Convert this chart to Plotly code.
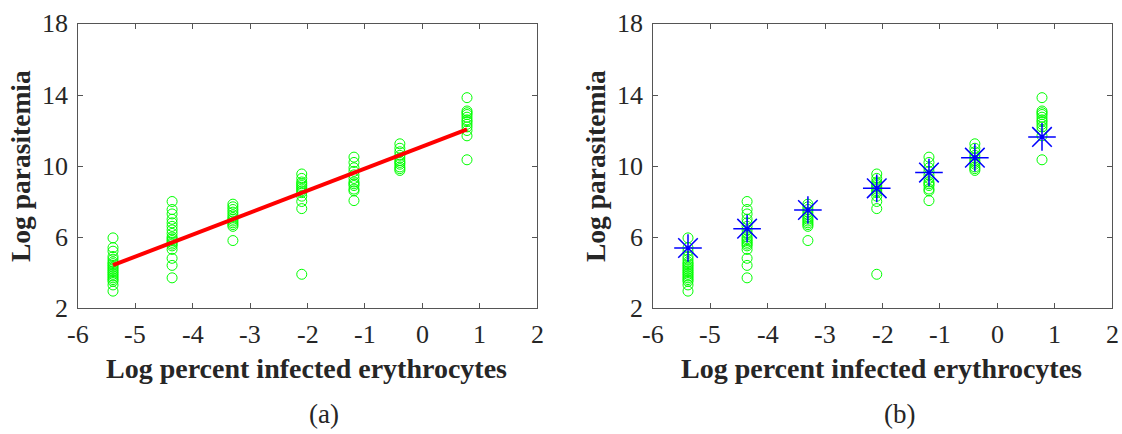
import numpy as np
import plotly.graph_objects as go

# Log percent infected erythrocytes for each dilution level
dilution_x = [-5.39, -4.36, -3.30, -2.10, -1.19, -0.39, 0.78]

# Log parasitemia readings at each dilution level
parasitemia = [
    [5.95, 5.4, 5.2, 4.9, 4.75, 4.6, 4.5, 4.4, 4.3, 4.2, 4.1, 4.0, 3.9, 3.8, 3.7, 3.6, 3.5, 3.3, 2.95],
    [8.0, 7.55, 7.3, 7.0, 6.8, 6.6, 6.4, 6.2, 6.0, 5.9, 5.8, 5.7, 5.6, 5.5, 5.3, 4.8, 4.4, 3.7],
    [7.85, 7.7, 7.55, 7.4, 7.25, 7.1, 7.0, 6.9, 6.8, 6.7, 6.6, 5.8],
    [9.55, 9.3, 9.1, 9.0, 8.9, 8.8, 8.7, 8.6, 8.5, 8.3, 8.0, 7.6, 3.9],
    [10.5, 10.2, 9.9, 9.7, 9.5, 9.3, 9.1, 9.0, 8.9, 8.7, 8.6, 8.05],
    [11.25, 11.0, 10.8, 10.6, 10.45, 10.3, 10.2, 10.1, 9.95, 9.85, 9.75],
    [13.85, 13.1, 13.0, 12.9, 12.75, 12.6, 12.5, 12.35, 12.2, 12.0, 11.7, 10.35],
]

# Estimated level per dilution (panel b)
estimate_y = [5.38, 6.47, 7.52, 8.74, 9.63, 10.47, 11.64]

x_ticks = [-6, -5, -4, -3, -2, -1, 0, 1, 2]
y_ticks = [2, 6, 10, 14, 18]
x_title = "Log percent infected erythrocytes"
y_title = "Log parasitemia"
panel_labels = ["(a)", "(b)"]

pts_x = np.concatenate([[x] * len(v) for x, v in zip(dilution_x, parasitemia)])
pts_y = np.concatenate(parasitemia)

# least-squares line through all readings
slope, intercept = np.polyfit(pts_x, pts_y, 1)
fit_x = np.array([dilution_x[0], dilution_x[-1]])
fit_y = slope * fit_x + intercept

W, H = 1122, 434
FONT = "Liberation Serif"
TXT = "#262626"
AX = "#555555"

# panel frames in pixels: left, right, top, bottom
frames = [(78, 537, 24, 308), (653, 1112, 24, 308)]

circle = dict(symbol="circle-open", size=10, color="#00ff00", line=dict(width=1, color="#00ff00"))

fig = go.Figure()
fig.add_trace(go.Scatter(x=pts_x, y=pts_y, mode="markers", marker=circle,
                         xaxis="x", yaxis="y"))
fig.add_trace(go.Scatter(x=fit_x, y=fit_y, mode="lines", line=dict(color="#ff0000", width=4),
                         xaxis="x", yaxis="y"))
fig.add_trace(go.Scatter(x=pts_x, y=pts_y, mode="markers", marker=circle,
                         xaxis="x2", yaxis="y2"))
fig.add_trace(go.Scatter(x=dilution_x, y=estimate_y, mode="markers",
                         marker=dict(symbol="asterisk-open", size=23,
                                     line=dict(width=1.5, color="#0000ff"), color="#0000ff"),
                         xaxis="x2", yaxis="y2"))


def axis_cfg(rng, tv):
    return dict(range=rng, tickvals=tv, showticklabels=False, ticks="inside", ticklen=5,
                tickcolor=AX, showline=True, linecolor=AX, linewidth=1, mirror="allticks",
                showgrid=False, zeroline=False)


tick_font = dict(family=FONT, size=26, color=TXT)
bold = dict(family=FONT, size=28, color=TXT, weight="bold")

layout_axes = {}
annotations = []
for i, (l, r, t, b) in enumerate(frames):
    sfx = "" if i == 0 else "2"
    layout_axes["xaxis" + sfx] = dict(domain=[l / W, r / W], anchor="y" + sfx,
                                      **axis_cfg([-6, 2], x_ticks))
    layout_axes["yaxis" + sfx] = dict(domain=[1 - b / H, 1 - t / H], anchor="x" + sfx,
                                      **axis_cfg([2, 18], y_ticks))
    # serif tick labels placed on the axis scales
    for v in x_ticks:
        annotations.append(dict(text=str(v), x=v, xref="x" + sfx, y=1 - 334 / H, yref="paper",
                                showarrow=False, xanchor="center", yanchor="middle",
                                font=tick_font))
    for v in y_ticks:
        annotations.append(dict(text=str(v), x=(l - 8) / W, xref="paper", y=v, yref="y" + sfx,
                                showarrow=False, xanchor="right", yanchor="middle",
                                font=tick_font))
    annotations.append(dict(text=x_title, x=(l + 228) / W, y=1 - 368 / H,
                            xref="paper", yref="paper", showarrow=False,
                            xanchor="center", yanchor="middle", font=bold))
    annotations.append(dict(text=y_title, x=(l - 58) / W, y=1 - 166 / H,
                            xref="paper", yref="paper", showarrow=False, textangle=-90,
                            xanchor="center", yanchor="middle", font=dict(bold, size=27.5)))
    annotations.append(dict(text=panel_labels[i], x=(l + 246) / W, y=1 - 414 / H,
                            xref="paper", yref="paper", showarrow=False,
                            xanchor="center", yanchor="middle",
                            font=dict(family=FONT, size=27, color=TXT)))

fig.update_layout(width=W, height=H, margin=dict(l=0, r=0, t=0, b=0), showlegend=False,
                  paper_bgcolor="white", plot_bgcolor="white",
                  annotations=annotations, **layout_axes)

fig.write_html("out.html")
